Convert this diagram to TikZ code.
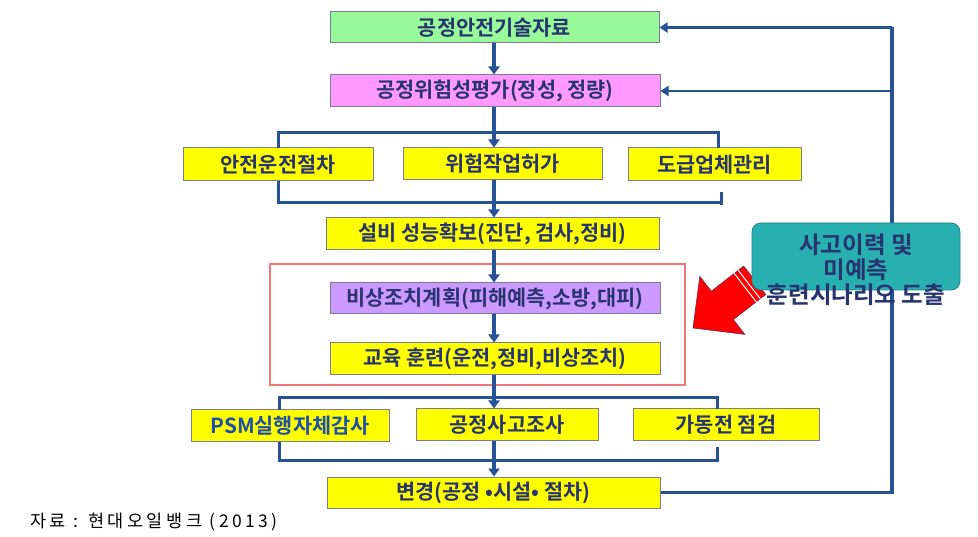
\documentclass[tikz,border=0pt]{standalone}
\usepackage{fontspec}
\usetikzlibrary{arrows.meta}
\newfontfamily\krb{Noto Sans CJK KR Bold}
\newfontfamily\kr{Noto Sans CJK KR}
\newfontfamily\krcap{Noto Sans CJK KR}[LetterSpace=20]
\definecolor{lineblue}{RGB}{38,82,150}
\definecolor{txtblue}{RGB}{40,52,112}
\definecolor{psmblue}{RGB}{30,80,170}
\definecolor{gfill}{RGB}{153,250,153}
\definecolor{pfill}{RGB}{255,153,255}
\definecolor{vfill}{RGB}{204,153,255}
\definecolor{yfill}{RGB}{255,255,0}
\definecolor{tfill}{RGB}{40,175,175}
\definecolor{tedge}{RGB}{30,130,140}
\definecolor{boxedge}{RGB}{120,125,150}
\definecolor{redbox}{RGB}{240,120,120}
\tikzset{
  box/.style={draw=boxedge, line width=1pt, inner sep=0pt, text=txtblue,
    font=\krb\fontsize{20.8}{22}\selectfont},
  arr/.style={draw=lineblue, line width=3.5pt, -{Triangle[width=11pt,length=8pt]}},
  brk/.style={draw=lineblue, line width=3pt},
  fb/.style={draw=lineblue, line width=2.5pt, -{Triangle[width=10pt,length=8pt]}},
}
\begin{document}
\begin{tikzpicture}[x=1pt,y=-1pt]
\useasboundingbox (0,0) rectangle (978,537);
\fill[white] (0,0) rectangle (978,537);
% boxes
\node[box, fill=gfill, minimum width=329pt, minimum height=31pt] (top) at (494.5,27.5) {공정안전기술자료};
\node[box, fill=pfill, minimum width=330pt, minimum height=32pt] (risk) at (495,91) {공정위험성평가(정성, 정량)};
\node[box, fill=yfill, minimum width=190pt, minimum height=33pt] (sop) at (278,164.5) {안전운전절차};
\node[box, fill=yfill, minimum width=199pt, minimum height=32pt] (ptw) at (502.5,164) {위험작업허가};
\node[box, fill=yfill, minimum width=173pt, minimum height=33pt] (con) at (714.5,164.5) {도급업체관리};
\node[box, fill=yfill, minimum width=333pt, minimum height=32pt] (equip) at (492.5,234) {설비 성능확보(진단, 검사,정비)};
\node[box, fill=vfill, minimum width=330pt, minimum height=31pt] (emerg) at (495,298.5) {비상조치계획(피해예측,소방,대피)};
\node[box, fill=yfill, minimum width=330pt, minimum height=32pt] (edu) at (495,359) {교육 훈련(운전,정비,비상조치)};
\node[box, fill=yfill, minimum width=198pt, minimum height=32pt, text=psmblue] (psm) at (290,426) {PSM실행자체감사};
\node[box, fill=yfill, minimum width=182pt, minimum height=32pt] (acc) at (507,425) {공정사고조사};
\node[box, fill=yfill, minimum width=186pt, minimum height=32pt] (pre) at (726,425) {가동전 점검};
\node[box, fill=yfill, minimum width=333pt, minimum height=31pt] (chg) at (493.5,492.5) {변경(공정 •시설• 절차)};
% red frame
\draw[redbox, line width=1.3pt] (270,264) rectangle (685,385);
% vertical arrows
\coordinate (cx) at (494,0);
\draw[arr] (top.south -| cx) -- (risk.north -| cx);
\draw[arr] (risk.south -| cx) -- (ptw.north -| cx);
\draw[arr] (ptw.south -| cx) -- (equip.north -| cx);
\draw[arr] (equip.south -| cx) -- (emerg.north -| cx);
\draw[arr] (emerg.south -| cx) -- (edu.north -| cx);
\draw[arr] (edu.south -| cx) -- (acc.north -| cx);
\draw[arr] (acc.south -| cx) -- (chg.north -| cx);
% brackets row 2
\draw[brk] (278,148) -- (278,133) -- (718,133) -- (718,148);
\draw[brk] (278,181) -- (278,203) -- (720,203);
\draw[brk] (721,192) -- (721,205);
% brackets row 3
\draw[brk] (279,410) -- (279,398) -- (717,398) -- (717,409);
\draw[brk] (279,442) -- (279,460) -- (717,460) -- (717,447);
% feedback loop
\coordinate (fbx) at (892,0);
\draw[lineblue, line width=3.5pt] (chg.east) -- (chg.east -| fbx) -- (fbx |- top.east);
\draw[fb] (fbx |- top.east) -- (top.east);
\draw[fb] (fbx |- risk.east) -- (risk.east);
% red arrow
\draw[fill=red, draw={rgb,255:red,110;green,40;blue,90}, line width=0.6pt]
  (693,328) -- (699.8,276.4) -- (711.3,291.2) -- (743.7,266.1) -- (765.7,294.5) -- (733.3,319.6) -- (744.8,334.4) -- cycle;
\draw[white, line width=1pt] (756.2,301.8) -- (734.2,273.4);
\draw[white, line width=1pt] (760.2,298.7) -- (738.2,270.3);
% teal box
\node[draw=tedge, fill=tfill, rounded corners=9pt, line width=0.8pt, minimum width=208pt, minimum height=67pt, inner sep=0pt] (hist) at (856,256.5) {};
\node[text=txtblue, font=\krb\fontsize{23.5}{25}\selectfont, align=center, inner sep=0pt] (histtxt) at (856,270) {사고이력 및\\미예측\\훈련시나리오 도출};
% caption
\node[anchor=west, inner sep=0pt, font=\krcap\fontsize{17.5}{19}\selectfont] (cap) at (30,522) {자료 : 현대오일뱅크 (2013)};
\end{tikzpicture}
\end{document}
